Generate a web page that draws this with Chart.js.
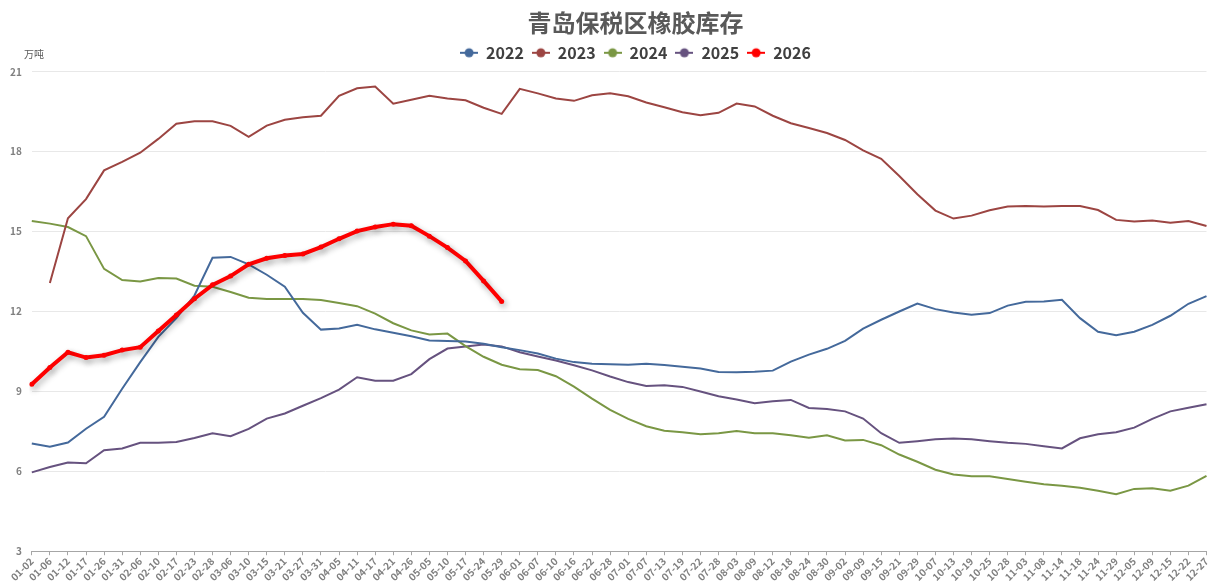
<!DOCTYPE html>
<html>
<head>
<meta charset="utf-8">
<script src="https://cdn.jsdelivr.net/npm/chart.js@4.4.1/dist/chart.umd.min.js"></script>
<style>
  body { margin: 0; background: #ffffff; }
  #wrap { width: 1209px; height: 583px; position: relative; }
</style>
</head>
<body>
<div id="wrap"><canvas id="canvas-inventory"></canvas></div>
<script>
const dateLabels = ['01-02','01-06','01-12','01-17','01-26','01-31','02-06','02-10','02-17','02-23','02-28',
    '03-06','03-10','03-15','03-21','03-27','03-31','04-05','04-11','04-17','04-21','04-26',
    '05-05','05-10','05-17','05-24','05-29','06-01','06-07','06-10','06-16','06-22','06-28',
    '07-01','07-07','07-13','07-19','07-22','07-28','08-03','08-09','08-12','08-18','08-24','08-30',
    '09-02','09-09','09-15','09-21','09-29','10-07','10-13','10-19','10-25','10-28',
    '11-03','11-08','11-14','11-18','11-24','11-29','12-05','12-09','12-15','12-22','12-27'];

const yearNames = ['2022', '2023', '2024', '2025', '2026'];

const stock2022 = [7.04, 6.92, 7.08, 7.6, 8.05, 9.1, 10.1, 11.05, 11.75, 12.6, 14.02, 14.05, 13.77, 13.38, 12.93, 11.95,
    11.32, 11.36, 11.5, 11.33, 11.2, 11.07, 10.91, 10.89, 10.87, 10.79, 10.66, 10.55, 10.42, 10.23, 10.1, 10.04,
    10.02, 10.0, 10.04, 9.99, 9.93, 9.86, 9.73, 9.72, 9.74, 9.78, 10.12, 10.38, 10.6, 10.9, 11.36, 11.69, 12.0,
    12.3, 12.09, 11.96, 11.88, 11.94, 12.22, 12.37, 12.38, 12.44, 11.75, 11.24, 11.11, 11.24, 11.5, 11.84, 12.29, 12.58];

const stock2023 = [null, 13.07, 15.5, 16.22, 17.3, 17.62, 17.96, 18.48, 19.05, 19.14, 19.14, 18.97, 18.56, 18.98, 19.2,
    19.29, 19.35, 20.1, 20.38, 20.45, 19.8, 19.95, 20.1, 20.0, 19.93, 19.65, 19.42, 20.36, 20.19, 20.0, 19.91, 20.12,
    20.19, 20.08, 19.85, 19.67, 19.48, 19.37, 19.46, 19.81, 19.7, 19.35, 19.07, 18.89, 18.7, 18.44, 18.05, 17.73,
    17.09, 16.4, 15.79, 15.49, 15.6, 15.8, 15.94, 15.96, 15.94, 15.96, 15.96, 15.81, 15.44, 15.38, 15.42, 15.33, 15.4, 15.21];

const stock2024 = [15.4, 15.3, 15.17, 14.83, 13.6, 13.18, 13.13, 13.26, 13.24, 12.97, 12.93, 12.73, 12.52, 12.47, 12.47,
    12.47, 12.43, 12.32, 12.2, 11.92, 11.56, 11.29, 11.14, 11.17, 10.7, 10.3, 10.0, 9.83, 9.8, 9.57, 9.18, 8.73, 8.31,
    7.97, 7.69, 7.52, 7.47, 7.39, 7.43, 7.51, 7.43, 7.43, 7.35, 7.26, 7.35, 7.16, 7.18, 6.98, 6.63, 6.36, 6.06, 5.88,
    5.81, 5.81, 5.71, 5.61, 5.51, 5.46, 5.38, 5.27, 5.14, 5.34, 5.36, 5.27, 5.46, 5.83];

const stock2025 = [5.96, 6.16, 6.33, 6.3, 6.79, 6.86, 7.07, 7.07, 7.1, 7.25, 7.43, 7.32, 7.59, 7.98, 8.17, 8.46, 8.75,
    9.07, 9.53, 9.4, 9.4, 9.65, 10.21, 10.61, 10.69, 10.76, 10.69, 10.47, 10.31, 10.16, 9.98, 9.79, 9.56, 9.35, 9.2,
    9.23, 9.17, 9.0, 8.82, 8.7, 8.56, 8.63, 8.68, 8.38, 8.34, 8.25, 7.98, 7.43, 7.07, 7.13, 7.2, 7.23, 7.2, 7.13,
    7.07, 7.03, 6.94, 6.86, 7.24, 7.39, 7.47, 7.64, 7.97, 8.25, 8.39, 8.52];

const stock2026 = [9.27, 9.9, 10.47, 10.27, 10.36, 10.55, 10.66, 11.27, 11.87, 12.48, 13.0, 13.33, 13.77, 14.0, 14.1,
    14.16, 14.42, 14.73, 15.02, 15.17, 15.28, 15.22, 14.83, 14.4, 13.9, 13.15, 12.38];

const yTicks = [3, 6, 9, 12, 15, 18, 21];

const lineColors = ['#44699b', '#9c4542', '#7a9744', '#66527f', '#ff0000'];
const fontFamily = '"Noto Sans CJK SC", "Noto Sans", sans-serif';

// small "line + dot" icons for the legend
function makeLegendIcon(color) {
    const c = document.createElement('canvas');
    c.width = 18;
    c.height = 12;
    const g = c.getContext('2d');
    g.strokeStyle = color;
    g.lineWidth = 2;
    g.beginPath();
    g.moveTo(0, 6);
    g.lineTo(18, 6);
    g.stroke();
    g.fillStyle = color;
    g.beginPath();
    g.arc(9, 6, 4.5, 0, Math.PI * 2);
    g.fill();
    return c;
}
const legendIcons = lineColors.map(makeLegendIcon);

const allSeries = [stock2022, stock2023, stock2024, stock2025, stock2026];

const datasets = allSeries.map((values, i) => {
    const isCurrent = i === 4;
    return {
        label: yearNames[i],
        data: values,
        borderColor: lineColors[i],
        backgroundColor: lineColors[i],
        borderWidth: isCurrent ? 4 : 2,
        pointRadius: isCurrent ? 2.5 : 0,
        pointBorderWidth: 0,
        pointHoverRadius: 0,
        tension: 0,
        spanGaps: false,
        order: isCurrent ? 0 : 1
    };
});

// soft shadow under the 2026 line
const currentShadow = {
    id: 'currentShadow',
    beforeDatasetDraw(chart, args) {
        if (args.index === 4) {
            const ctx = chart.ctx;
            ctx.save();
            ctx.shadowColor = 'rgba(0, 0, 0, 0.3)';
            ctx.shadowBlur = 6;
            ctx.shadowOffsetX = 2;
            ctx.shadowOffsetY = 3;
        }
    },
    afterDatasetDraw(chart, args) {
        if (args.index === 4) chart.ctx.restore();
    }
};

// extra room under the legend, and title/legend centred a bit right of the canvas centre
const headerLayout = {
    id: 'headerLayout',
    beforeInit(chart) {
        const origFit = chart.legend.fit;
        chart.legend.fit = function () {
            origFit.call(this);
            this.height += 1;
        };
    },
    afterLayout(chart) {
        [chart.titleBlock, chart.legend].forEach(box => {
            if (box) {
                box.left += 32;
                box.right += 32;
            }
        });
    }
};

// unit text above the y axis
const unitLabel = {
    id: 'unitLabel',
    afterDraw(chart) {
        const ctx = chart.ctx;
        ctx.save();
        ctx.font = '10px ' + fontFamily;
        ctx.fillStyle = '#595959';
        ctx.textAlign = 'left';
        ctx.textBaseline = 'middle';
        ctx.fillText('万吨', 24, 54);
        ctx.restore();
    }
};

const ctx = document.getElementById('canvas-inventory').getContext('2d');

new Chart(ctx, {
    type: 'line',
    data: {
        labels: dateLabels,
        datasets: datasets
    },
    options: {
        responsive: true,
        maintainAspectRatio: false,
        animation: false,
        layout: {
            padding: { left: 0, right: 2, top: 2, bottom: 0 }
        },
        plugins: {
            title: {
                display: true,
                text: '青岛保税区橡胶库存',
                color: '#595959',
                font: { family: fontFamily, size: 24, weight: 'bold' },
                padding: { top: 6, bottom: 0 }
            },
            legend: {
                position: 'top',
                labels: {
                    usePointStyle: true,
                    pointStyleWidth: 18,
                    color: '#404040',
                    padding: 8,
                    font: { family: fontFamily, size: 16, weight: 'bold' },
                    sort: (a, b) => a.datasetIndex - b.datasetIndex,
                    generateLabels(chart) {
                        const items = Chart.defaults.plugins.legend.labels.generateLabels(chart);
                        items.forEach(item => {
                            item.pointStyle = legendIcons[item.datasetIndex];
                        });
                        return items;
                    }
                }
            },
            tooltip: { enabled: false }
        },
        scales: {
            x: {
                type: 'category',
                offset: false,
                afterFit(scale) {
                    scale.paddingRight = 0;
                },
                grid: {
                    drawOnChartArea: false,
                    drawTicks: true,
                    tickLength: 4,
                    color: '#a6a6a6'
                },
                border: { display: true, color: '#a6a6a6' },
                ticks: {
                    autoSkip: false,
                    maxRotation: 45,
                    minRotation: 45,
                    color: '#808080',
                    padding: 0,
                    font: { family: fontFamily, size: 10, weight: 'bold' }
                }
            },
            y: {
                min: yTicks[0],
                max: yTicks[yTicks.length - 1],
                afterBuildTicks(scale) {
                    scale.ticks = yTicks.map(v => ({ value: v }));
                },
                grid: {
                    color: '#e8e8e8',
                    drawTicks: false
                },
                border: { display: false },
                ticks: {
                    color: '#808080',
                    padding: 10,
                    font: { family: fontFamily, size: 10, weight: 'bold' }
                }
            }
        }
    },
    plugins: [currentShadow, headerLayout, unitLabel]
});
</script>
</body>
</html>
